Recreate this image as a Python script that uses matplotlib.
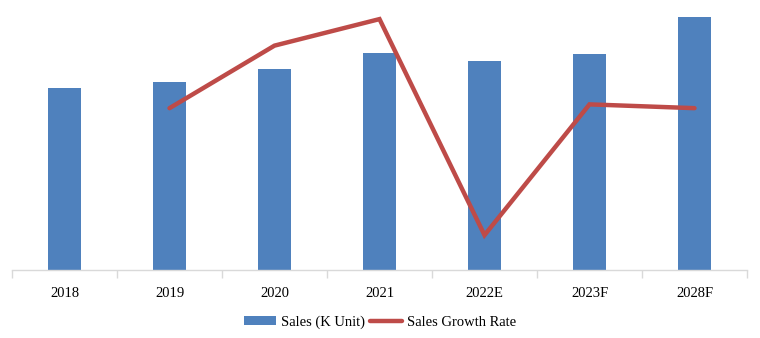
import matplotlib.pyplot as plt
import numpy as np

plt.rcParams['font.family'] = ['Liberation Serif', 'DejaVu Serif']

years = ['2018', '2019', '2020', '2021', '2022E', '2023F', '2028F']
sales = [910, 940, 1005, 1085, 1045, 1080, 1265]          # K units
growth_years = ['2019', '2020', '2021', '2022E', '2023F', '2028F']
growth = [3.5, 6.8, 8.2, -3.2, 3.7, 3.5]                  # %

bar_color = '#4F81BD'
line_color = '#BE4B48'

fig = plt.figure(figsize=(7.6, 3.38), dpi=100)
ax = fig.add_axes([12 / 760, 68 / 338, 735 / 760, 260 / 338])

x = np.arange(len(years))
bars = ax.bar(x, sales, width=0.31, color=bar_color, label='Sales (K Unit)', zorder=2)
ax.set_ylim(0, 1300)
ax.set_xlim(-0.5, len(years) - 0.5)

# growth rate on its own hidden scale
ax2 = ax.twinx()
gx = [years.index(y) for y in growth_years]
line, = ax2.plot(gx, growth, color=line_color, lw=3.2, solid_capstyle='round',
                 solid_joinstyle='miter', label='Sales Growth Rate', zorder=3)
ax2.set_ylim(-5.04, 8.68)

for a in (ax, ax2):
    for s in ('top', 'right', 'left'):
        a.spines[s].set_visible(False)
    a.set_yticks([])
ax2.spines['bottom'].set_visible(False)
ax.spines['bottom'].set_color('#d9d9d9')
ax.spines['bottom'].set_linewidth(1.0)

# category boundary ticks, labels centred under bars
ax.set_xticks(np.arange(-0.5, len(years), 1.0))
ax.set_xticklabels([])
ax.set_xticks(x, minor=True)
ax.set_xticklabels(years, minor=True, fontsize=10.5)
ax.tick_params(axis='x', which='major', length=6, color='#d9d9d9', width=1.0)
ax.tick_params(axis='x', which='minor', length=0, pad=12)

fig.legend([bars, line], ['Sales (K Unit)', 'Sales Growth Rate'],
           loc='center', bbox_to_anchor=(0.5, 1 - 322 / 338), ncol=2,
           frameon=False, fontsize=10.5, handlelength=2.2, handleheight=0.55,
           handletextpad=0.3, columnspacing=0.4)

fig.savefig('out.png', dpi=100)
